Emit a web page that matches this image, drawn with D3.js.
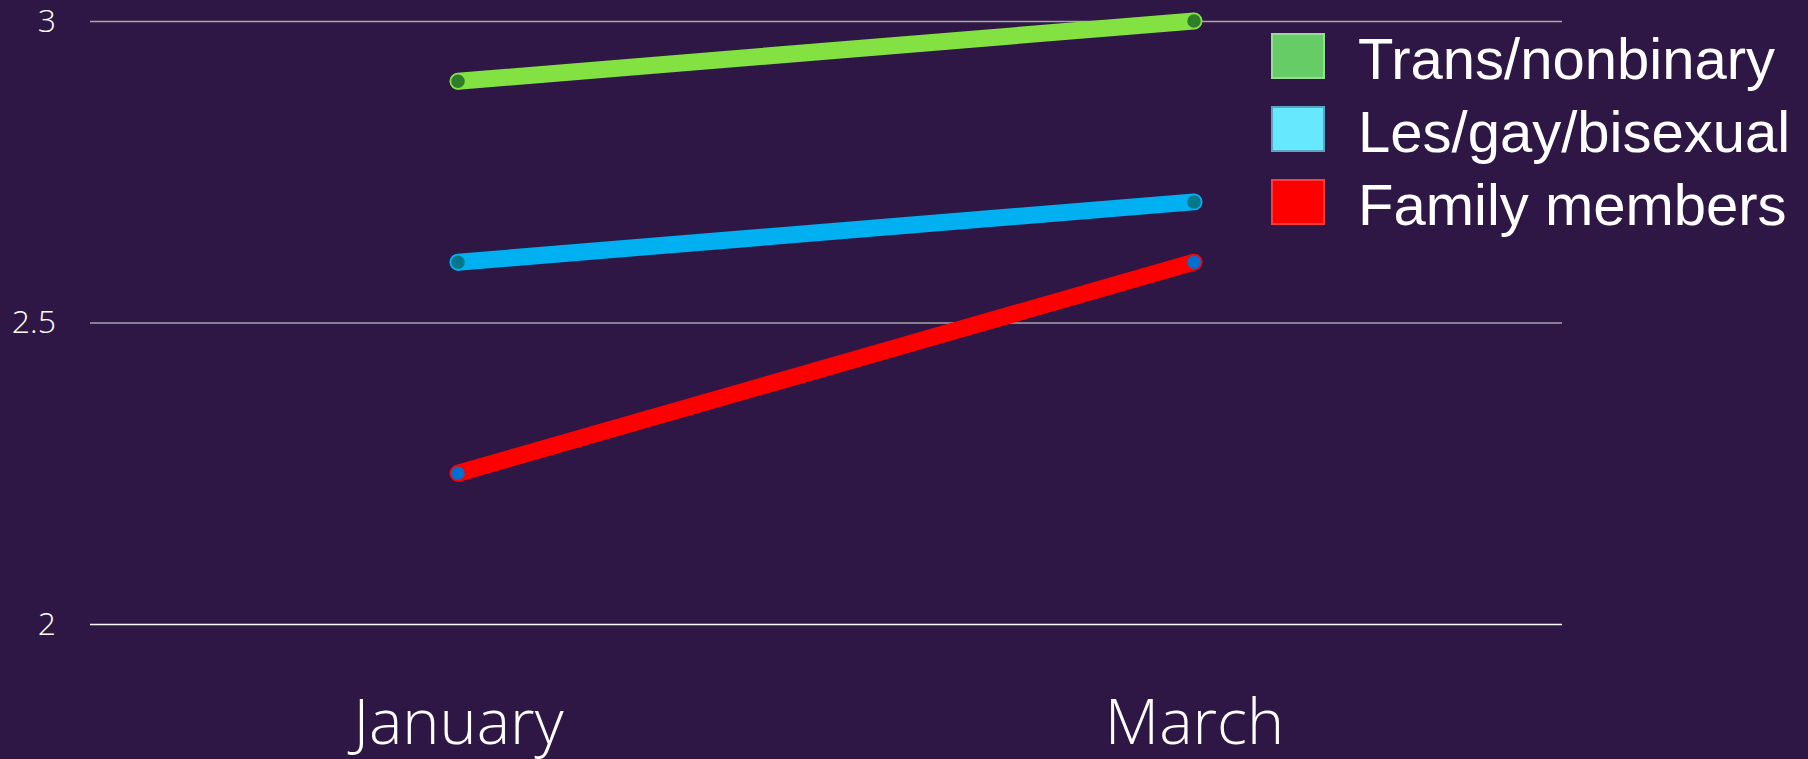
<!DOCTYPE html>
<meta charset="utf-8">
<script src="https://d3js.org/d3.v7.min.js"></script>
<style>
  body { margin: 0; background: #2f1745; }
</style>
<svg id="chart"></svg>
<script>

// data
let months = ["January", "March"];
let seriesNames = ["Trans/nonbinary", "Les/gay/bisexual", "Family members"];
let transValues = [2.9, 3.0];
let lgbValues = [2.6, 2.7];
let familyValues = [2.25, 2.6];
let yTicks = [2, 2.5, 3];

let lineColors = ["#84e142", "#00b0f0", "#ff0000"];
let dotColors = ["#2e7d2b", "#00788a", "#0070d0"];
let legendColors = ["#66cc66", "#66e8ff", "#ff0000"];
let legendBorders = ["#95dd95", "#5aa6c0", "#ff3a3a"];

let width = 1808, height = 759;
let svg = d3.select("#chart").attr("width", width).attr("height", height);

let plotLeft = 90, plotRight = 1562, plotTop = 21, plotBottom = 624;

let x = d3.scalePoint().domain(months).range([plotLeft, plotRight]).padding(0.5);
let y = d3.scaleLinear().domain([2, 3]).range([plotBottom, plotTop]);

// y axis with gridlines
let yAxis = svg.append("g")
    .attr("transform", "translate(" + plotLeft + ",0)")
    .call(d3.axisLeft(y).tickValues(yTicks).tickFormat(d3.format("")).tickSize(-(plotRight - plotLeft)).tickPadding(34));
yAxis.select(".domain").remove();
yAxis.selectAll("line")
    .attr("stroke", d => d === 2 ? "#ffffff" : "#a6a6a6")
    .attr("stroke-width", 1.6);
yAxis.selectAll("text")
    .attr("fill", "#ffffff")
    .style("font-family", "'Open Sans', sans-serif")
    .style("font-weight", 300)
    .style("font-size", "32px");

// x axis labels
let xAxis = svg.append("g")
    .attr("transform", "translate(0," + plotBottom + ")")
    .call(d3.axisBottom(x).tickSize(0).tickPadding(0));
xAxis.select(".domain").remove();
xAxis.selectAll("text")
    .attr("y", 120)
    .attr("dy", 0)
    .attr("fill", "#ffffff")
    .style("font-family", "'Open Sans', sans-serif")
    .style("font-weight", 300)
    .style("font-size", "63px");

// series
let series = [transValues, lgbValues, familyValues].map((vals, i) => ({
  name: seriesNames[i],
  points: months.map((m, j) => ({ month: m, value: vals[j] }))
}));

let line = d3.line().x(d => x(d.month)).y(d => y(d.value));

let groups = svg.append("g").selectAll("g")
  .data(series)
  .enter().append("g");

groups.append("path")
    .attr("d", d => line(d.points))
    .attr("fill", "none")
    .attr("stroke", (d, i) => lineColors[i])
    .attr("stroke-width", 17)
    .attr("stroke-linecap", "round");

groups.each(function(d, i) {
  d3.select(this).selectAll("circle")
    .data(d.points)
    .enter().append("circle")
      .attr("cx", p => x(p.month))
      .attr("cy", p => y(p.value))
      .attr("r", 7.5)
      .attr("fill", dotColors[i])
      .attr("stroke", lineColors[i])
      .attr("stroke-width", 1.5);
});

// legend
let legend = svg.append("g").selectAll("g")
  .data(seriesNames)
  .enter().append("g")
    .attr("transform", (d, i) => "translate(1272," + (34 + i * 73) + ")");

legend.append("rect")
    .attr("width", 52)
    .attr("height", 44)
    .attr("fill", (d, i) => legendColors[i])
    .attr("stroke", (d, i) => legendBorders[i])
    .attr("stroke-width", 2);

legend.append("text")
    .attr("x", 86)
    .attr("y", 45)
    .attr("fill", "#ffffff")
    .style("font-family", "'Liberation Sans', Arial, sans-serif")
    .style("font-size", "58px")
    .text(d => d);

</script>
